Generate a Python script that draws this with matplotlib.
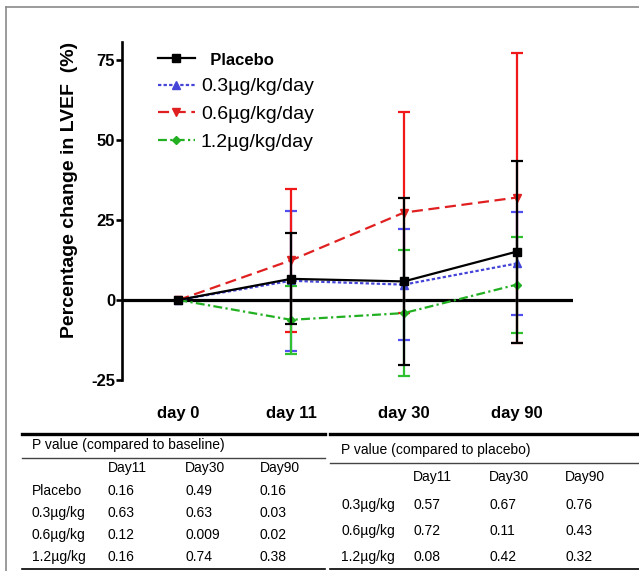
import numpy as np
import matplotlib.pyplot as plt
from matplotlib.lines import Line2D

plt.rcParams['font.family'] = ['Liberation Sans', 'DejaVu Sans']
plt.rcParams['axes.unicode_minus'] = False

# ---- chart data (percent change in LVEF, mean and SD) ----
days = ["day 0", "day 11", "day 30", "day 90"]
placebo_mean = [0, 6.6, 5.8, 15.1]
placebo_sd = [0, 14.2, 26.0, 28.4]
dose03_mean = [0, 6.0, 4.8, 11.4]
dose03_sd = [0, 21.8, 17.3, 16.2]
dose06_mean = [0, 12.4, 27.3, 32.0]
dose06_sd = [0, 22.4, 31.3, 45.3]
dose12_mean = [0, -6.2, -4.1, 4.8]
dose12_sd = [0, 10.6, 19.7, 15.0]

series_labels = ["Placebo", "0.3µg/kg/day", "0.6µg/kg/day", "1.2µg/kg/day"]

# ---- table data ----
p_cols = ["Day11", "Day30", "Day90"]
base_rows = ["Placebo", "0.3µg/kg", "0.6µg/kg", "1.2µg/kg"]
base_p = [["0.16", "0.49", "0.16"],
          ["0.63", "0.63", "0.03"],
          ["0.12", "0.009", "0.02"],
          ["0.16", "0.74", "0.38"]]
plac_rows = ["0.3µg/kg", "0.6µg/kg", "1.2µg/kg"]
plac_p = [["0.57", "0.67", "0.76"],
          ["0.72", "0.11", "0.43"],
          ["0.08", "0.42", "0.32"]]

W, H = 639, 571
fig = plt.figure(figsize=(W / 100, H / 100), dpi=100)


def fx(x):
    return x / W


def fy(y):
    return 1 - y / H


ax = fig.add_axes([fx(122), fy(380), (573 - 122) / W, (380 - 42) / H])
x = np.arange(len(days))

styles = [
    # mean, sd, line colour, error colour, marker, linestyle, marker size, zorder
    (dose03_mean, dose03_sd, "#4545d8", "#5050f0", "^", (0, (1.5, 1.0)), 6, 3),
    (dose06_mean, dose06_sd, "#e02020", "#f01818", "v", (0, (5, 2.5)), 6, 3),
    (dose12_mean, dose12_sd, "#22b022", "#30c030", "D", (0, (4, 1.5, 1, 1.5)), 4, 4),
    (placebo_mean, placebo_sd, "black", "black", "s", "-", 6, 5),
]
handles = {}
for (m, s, c, ec, mk, ls, ms, z), lab in zip(styles, series_labels[1:] + series_labels[:1]):
    cont = ax.errorbar(x, m, yerr=s, color=c, ecolor=ec, marker=mk, ms=ms,
                       ls=ls, lw=1.6, elinewidth=1.6, capsize=4, capthick=1.6,
                       errorevery=(1, 1), zorder=z)
    handles[lab] = cont[0]

ax.axhline(0, color="black", lw=2.3, zorder=2)

ax.set_xlim(-0.5, 3.5)
ax.set_ylim(-25, 80.6)
ax.set_yticks([-25, 0, 25, 50, 75])
for sp in ["top", "right", "bottom"]:
    ax.spines[sp].set_visible(False)
ax.spines["left"].set_linewidth(1.9)
ax.spines["left"].set_bounds(-25, 80.6)
ax.tick_params(axis="y", length=4, width=1.9, labelsize=12, pad=1)
ax.set_xticks(x)
ax.set_xticklabels(days, fontsize=12, fontweight="bold")
ax.tick_params(axis="x", length=0, pad=19)
for t in ax.get_yticklabels():
    t.set_fontweight("bold")

ax.set_ylabel("Percentage change in LVEF  (%)", fontsize=14, fontweight="bold")
ax.yaxis.set_label_coords(-0.098, 0.562)

leg = ax.legend([handles[l] for l in series_labels],
                ["  " + series_labels[0]] + series_labels[1:],
                loc="upper left", bbox_to_anchor=(fx(158), fy(51)),
                bbox_transform=fig.transFigure, frameon=False, fontsize=14,
                handlelength=1.9, handletextpad=0.3, labelspacing=0.52,
                borderpad=0, borderaxespad=0)
leg.get_texts()[0].set_fontweight("bold")
leg.get_texts()[0].set_fontsize(12)

# ---- outer frame ----
fig.add_artist(Line2D([fx(6), fx(6)], [fy(7), 0], transform=fig.transFigure,
                      color="#8a8a8a", lw=1.2))
fig.add_artist(Line2D([fx(6), 1], [fy(7), fy(7)], transform=fig.transFigure,
                      color="#8a8a8a", lw=1.2))


def hline(x0, x1, y, lw, color="black"):
    fig.add_artist(Line2D([fx(x0), fx(x1)], [fy(y), fy(y)],
                          transform=fig.transFigure, color=color, lw=lw))


# ---- left table: compared to baseline ----
tfs = 10
hline(22, 325, 434, 2.4)
hline(22, 325, 458, 1.0, "#444444")
hline(22, 325, 569, 1.2)
fig.text(fx(32), fy(445), "P value (compared to baseline)", fontsize=tfs, va="center")
col_x = [108, 185, 260]
for cx, c in zip(col_x, p_cols):
    fig.text(fx(cx), fy(468), c, fontsize=tfs, va="center")
for i, (r, vals) in enumerate(zip(base_rows, base_p)):
    yy = 491 + i * 22
    fig.text(fx(32), fy(yy), r, fontsize=tfs, va="center")
    for cx, v in zip(col_x, vals):
        fig.text(fx(cx), fy(yy), v, fontsize=tfs, va="center")

# ---- right table: compared to placebo ----
hline(330, 639, 434, 2.4)
hline(330, 639, 463, 1.0, "#444444")
hline(330, 639, 569, 1.2)
fig.text(fx(341), fy(450), "P value (compared to placebo)", fontsize=tfs, va="center")
col_x2 = [413, 489, 565]
for cx, c in zip(col_x2, p_cols):
    fig.text(fx(cx), fy(477), c, fontsize=tfs, va="center")
for i, (r, vals) in enumerate(zip(plac_rows, plac_p)):
    yy = 505 + i * 26
    fig.text(fx(341), fy(yy), r, fontsize=tfs, va="center")
    for cx, v in zip(col_x2, vals):
        fig.text(fx(cx), fy(yy), v, fontsize=tfs, va="center")

fig.savefig("out.png", dpi=100)
